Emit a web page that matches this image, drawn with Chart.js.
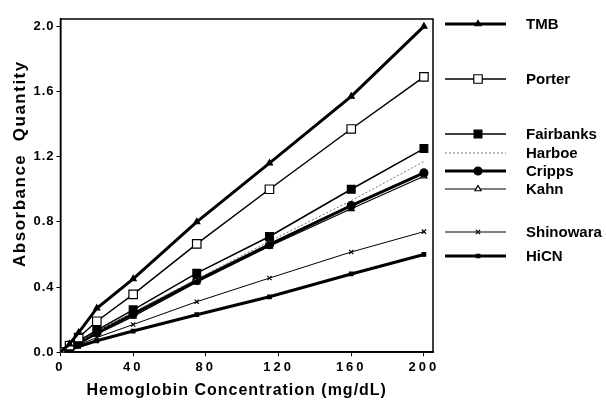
<!DOCTYPE html>
<html>
<head>
<meta charset="utf-8">
<script src="https://cdn.jsdelivr.net/npm/chart.js@4.4.1/dist/chart.umd.min.js"></script>
<style>
  html, body { margin: 0; padding: 0; background: #fff; }
  #wrap { width: 606px; height: 400px; position: relative; }
</style>
</head>
<body>
<div id="wrap"><canvas id="chart"></canvas></div>
<script>
// hemoglobin concentration (mg/dL)
const concentrations = [0, 5, 10, 20, 40, 75, 115, 160, 200];

const seriesNames = ['TMB', 'Porter', 'Fairbanks', 'Harboe', 'Cripps', 'Kahn', 'Shinowara', 'HiCN'];

const tmb       = [0, 0.05, 0.12, 0.27, 0.45, 0.80, 1.16, 1.57, 2.00];
const porter    = [0, 0.04, 0.09, 0.19, 0.355, 0.665, 1.00, 1.37, 1.69];
const fairbanks = [0, 0.035, 0.07, 0.135, 0.26, 0.485, 0.71, 1.00, 1.25];
const harboe    = [0, 0.03, 0.06, 0.125, 0.245, 0.45, 0.68, 0.93, 1.17];
const cripps    = [0, 0.03, 0.055, 0.12, 0.235, 0.44, 0.66, 0.90, 1.10];
const kahn      = [0, 0.025, 0.05, 0.11, 0.22, 0.43, 0.65, 0.88, 1.08];
const shinowara = [0, 0.02, 0.045, 0.09, 0.17, 0.31, 0.455, 0.615, 0.74];
const hicn      = [0, 0.015, 0.035, 0.07, 0.13, 0.23, 0.34, 0.48, 0.60];

const xTicks = [0, 40, 80, 120, 160, 200];
const yTicks = [0, 0.4, 0.8, 1.2, 1.6, 2.0];

const toPoints = vals => vals.map((v, i) => ({ x: concentrations[i], y: v }));

const FONT = "'Liberation Sans', Arial, sans-serif";

// line / marker look per series
const styles = [
  { borderWidth: 3,   pointStyle: 'triangle', pointRadius: 3.5, fill: '#000' },
  { borderWidth: 1.5, pointStyle: 'rect',     pointRadius: 6,   fill: '#fff' },
  { borderWidth: 1.5, pointStyle: 'rect',     pointRadius: 5.5, fill: '#000' },
  { borderWidth: 1,   pointStyle: false,      pointRadius: 0,   fill: '#888', color: '#777', dash: [2, 2] },
  { borderWidth: 3,   pointStyle: 'circle',   pointRadius: 4,   fill: '#000' },
  { borderWidth: 1.2, pointStyle: 'triangle', pointRadius: 3.5, fill: '#fff' },
  { borderWidth: 1,   pointStyle: 'crossRot', pointRadius: 3,   fill: '#000' },
  { borderWidth: 3,   pointStyle: 'rect',     pointRadius: 2.5, fill: '#000' }
];

const allValues = [tmb, porter, fairbanks, harboe, cripps, kahn, shinowara, hicn];

const datasets = allValues.map((vals, i) => {
  const s = styles[i];
  return {
    label: seriesNames[i],
    data: toPoints(vals),
    showLine: true,
    borderColor: s.color || '#000',
    borderWidth: s.borderWidth,
    borderDash: s.dash || [],
    pointStyle: s.pointStyle,
    pointRadius: s.pointRadius,
    pointBackgroundColor: s.fill,
    pointBorderColor: '#000',
    pointBorderWidth: 1.2,
    tension: 0
  };
});

// legend rows sit at irregular heights on the right
const legendY = [24, 79, 134, 153, 171, 189, 232, 256];

// the original typesetting is spread out a bit, and titles sit off-centre
const spacing = {
  x: { labels: '3px', title: '1px', shift: [-10, 0] },
  y: { labels: '1px', title: '1.5px', shift: [0, -22] }
};

const letterSpacer = {
  id: 'letterSpacer',
  afterUpdate(chart) {
    Object.values(chart.scales).forEach(scale => {
      if (scale._spaced || !spacing[scale.id]) return;
      const sp = spacing[scale.id];
      const wrap = (name, val, shift) => {
        const orig = scale[name];
        scale[name] = function (...args) {
          const ctx = this.ctx;
          ctx.save();
          ctx.letterSpacing = val;
          if (shift) ctx.translate(shift[0], shift[1]);
          orig.apply(this, args);
          ctx.restore();
        };
      };
      wrap('drawLabels', sp.labels);
      wrap('drawTitle', sp.title, sp.shift);
      scale._spaced = true;
    });
  }
};

const framePlugin = {
  id: 'frame',
  beforeDatasetsDraw(chart) {
    const { ctx, chartArea: a } = chart;
    ctx.save();
    ctx.strokeStyle = '#000';
    ctx.lineWidth = 1.5;
    ctx.strokeRect(a.left, a.top, a.right - a.left, a.bottom - a.top);
    ctx.restore();
  }
};

const sideLegend = {
  id: 'sideLegend',
  afterDraw(chart) {
    const { ctx } = chart;
    chart.data.datasets.forEach((ds, i) => {
      const y = legendY[i];
      const s = styles[i];
      ctx.save();
      ctx.strokeStyle = ds.borderColor;
      ctx.lineWidth = ds.borderWidth;
      ctx.setLineDash(ds.borderDash);
      ctx.beginPath();
      ctx.moveTo(445, y);
      ctx.lineTo(506, y);
      ctx.stroke();
      ctx.setLineDash([]);
      if (s.pointStyle) {
        ctx.fillStyle = s.fill;
        ctx.strokeStyle = '#000';
        ctx.lineWidth = 1.2;
        Chart.helpers.drawPoint(ctx, { pointStyle: s.pointStyle, radius: s.pointRadius, rotation: 0, borderWidth: 1.2 }, 478, y);
      }
      ctx.fillStyle = '#000';
      ctx.font = 'bold 15px ' + FONT;
      ctx.textBaseline = 'middle';
      ctx.fillText(ds.label, 526, y + 1);
      ctx.restore();
    });
  }
};

new Chart(document.getElementById('chart'), {
  type: 'scatter',
  data: { datasets },
  options: {
    responsive: true,
    maintainAspectRatio: false,
    animation: false,
    layout: { padding: { top: 19, right: 173, left: 10, bottom: 0 } },
    plugins: { legend: { display: false }, tooltip: { enabled: false } },
    scales: {
      x: {
        type: 'linear',
        min: 0,
        max: 205,
        afterBuildTicks: axis => { axis.ticks = xTicks.map(v => ({ value: v })); },
        ticks: { color: '#000', font: { family: FONT, weight: 'bold', size: 13 }, padding: 3, maxRotation: 0 },
        grid: { display: true, drawOnChartArea: false, color: '#000', tickLength: 4 },
        border: { display: true, color: '#000', width: 1.5 },
        title: { display: true, text: 'Hemoglobin Concentration (mg/dL)', color: '#000', font: { family: FONT, weight: 'bold', size: 16 }, padding: { top: 3, bottom: 0 } }
      },
      y: {
        type: 'linear',
        min: 0,
        max: 2.045,
        afterBuildTicks: axis => { axis.ticks = yTicks.map(v => ({ value: v })); },
        ticks: { color: '#000', font: { family: FONT, weight: 'bold', size: 13 }, padding: 2, callback: v => v.toFixed(1) },
        grid: { display: true, drawOnChartArea: false, color: '#000', tickLength: 4 },
        border: { display: true, color: '#000', width: 1.5 },
        title: { display: true, text: 'Absorbance  Quantity', color: '#000', font: { family: FONT, weight: 'bold', size: 17 }, padding: { top: 0, bottom: 4 } }
      }
    }
  },
  plugins: [letterSpacer, framePlugin, sideLegend]
});
</script>
</body>
</html>
